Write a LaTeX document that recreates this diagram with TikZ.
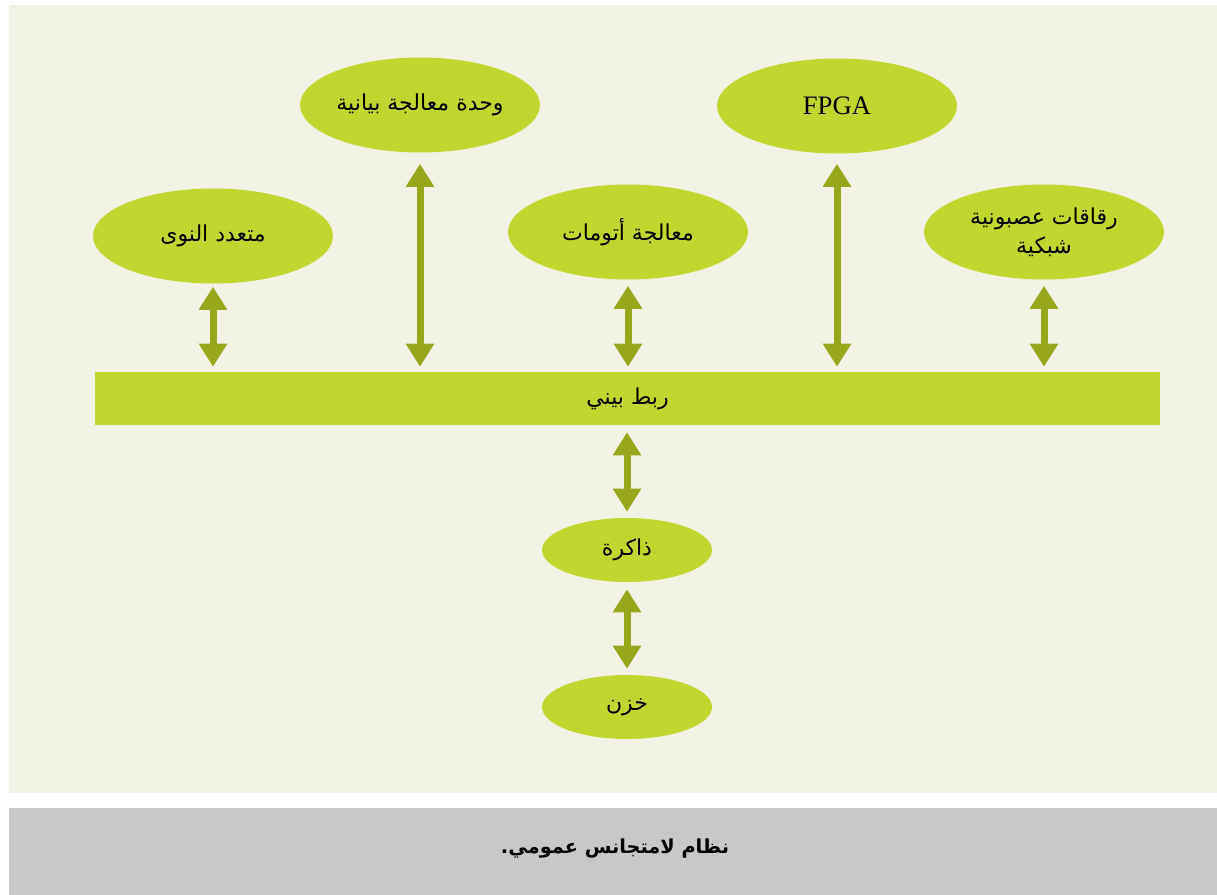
\documentclass[tikz,border=0pt]{standalone}
\usepackage{fontspec}
\usetikzlibrary{shapes.geometric,arrows.meta}
\TeXXeTstate=1
\newfontfamily\arabicfont[Script=Arabic]{DejaVu Sans}
\newfontfamily\latinfont{Liberation Serif}
\definecolor{panelbg}{HTML}{F2F3E4}
\definecolor{leaf}{HTML}{C0D72F}
\definecolor{olive}{HTML}{98A61C}
\definecolor{capgray}{HTML}{C8C8C8}
\tikzset{
  blob/.style={ellipse, fill=leaf, draw=none, inner sep=0pt,
    minimum width={240*0.75pt}, minimum height={95*0.75pt},
    font=\arabicfont\fontsize{16.5}{22}\selectfont, align=center},
  smallblob/.style={blob, minimum width={170*0.75pt}, minimum height={64*0.75pt}},
  busbar/.style={rectangle, fill=leaf, draw=none, inner sep=0pt,
    minimum width={1065*0.75pt}, minimum height={53*0.75pt},
    font=\arabicfont\fontsize{16.5}{22}\selectfont},
  link/.style={draw=olive, line width={7*0.75pt},
    {Triangle[width={27*0.75pt},length={23*0.75pt}]}-{Triangle[width={27*0.75pt},length={23*0.75pt}]}},
}
\begin{document}
\begin{tikzpicture}[x=0.75pt,y=-0.75pt]
\useasboundingbox (0,0) rectangle (1217,895);
\fill[white] (0,0) rectangle (1217,895);
\fill[panelbg] (9,5) rectangle (1217,793);
\fill[capgray] (9,808) rectangle (1217,895);
% nodes
\node[blob] (multi) at (213,236) {\beginR متعدد النوى\endR};
\node[blob] (gpu) at (420,105) {\beginR وحدة معالجة بيانية\endR};
\node[blob] (auto) at (628,232) {\beginR معالجة أتومات\endR};
\node[blob, font=\latinfont\fontsize{20}{22}\selectfont] (fpga) at (837,106) {FPGA};
\node[blob] (neuro) at (1044,232) {\beginR رقاقات عصبونية\endR\\\beginR شبكية\endR};
\node[busbar] (bus) at (627.5,398.5) {\beginR ربط بيني\endR};
\node[smallblob] (mem) at (627,550) {\beginR ذاكرة\endR};
\node[smallblob] (store) at (627,707) {\beginR خزن\endR};
\node[font=\arabicfont\bfseries\fontsize{14.5}{19}\selectfont] (cap) at (615,849) {\beginR نظام لامتجانس عمومي.\endR};
% connectors
\draw[link, shorten <={3*0.75pt}, shorten >={5*0.75pt}] (multi.south) -- (multi.south |- bus.north);
\draw[link, shorten <={11*0.75pt}, shorten >={5*0.75pt}] (gpu.south) -- (gpu.south |- bus.north);
\draw[link, shorten <={6*0.75pt}, shorten >={5*0.75pt}] (auto.south) -- (auto.south |- bus.north);
\draw[link, shorten <={10*0.75pt}, shorten >={5*0.75pt}] (fpga.south) -- (fpga.south |- bus.north);
\draw[link, shorten <={6*0.75pt}, shorten >={5*0.75pt}] (neuro.south) -- (neuro.south |- bus.north);
\draw[link, shorten <={7*0.75pt}, shorten >={6*0.75pt}] (mem.north |- bus.south) -- (mem.north);
\draw[link, shorten <={7*0.75pt}, shorten >={6*0.75pt}] (mem.south) -- (store.north);
\end{tikzpicture}
\end{document}
